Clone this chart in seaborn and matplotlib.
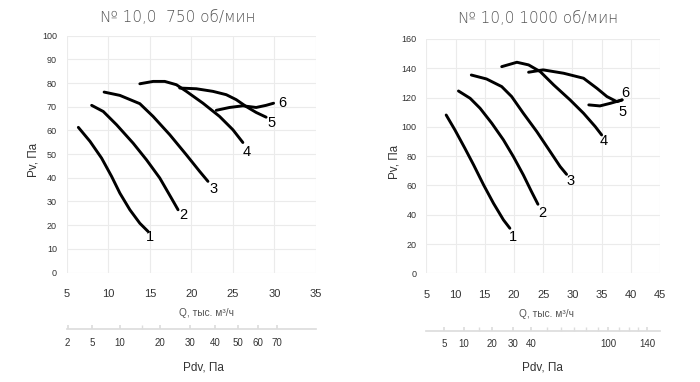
import numpy as np
import seaborn as sns
import matplotlib.pyplot as plt

# 750 об/мин: Q (тыс. м3/ч) / Pv (Па) по кривым 1..6
q750_1 = [6.4, 7.8, 9.2, 10.4, 11.4, 12.6, 13.8, 14.8]
p750_1 = [61.3, 55.4, 48.3, 40.6, 33.5, 26.5, 20.8, 17.3]
q750_2 = [8.0, 9.4, 11.0, 13.0, 14.6, 16.2, 17.6, 18.4]
p750_2 = [70.6, 68.0, 62.4, 54.6, 47.6, 39.9, 31.4, 26.5]
q750_3 = [9.5, 11.4, 13.8, 15.4, 17.4, 19.4, 21.0, 22.0]
p750_3 = [76.2, 74.8, 71.3, 65.9, 58.2, 49.7, 42.7, 38.5]
q750_4 = [13.8, 15.4, 16.8, 18.2, 19.4, 21.4, 23.4, 25.0, 26.2]
p750_4 = [79.7, 80.7, 80.7, 79.3, 76.5, 71.5, 65.9, 60.3, 54.9]
q750_5 = [18.6, 20.6, 22.6, 24.2, 25.4, 26.6, 27.8, 29.0]
p750_5 = [77.9, 77.6, 76.5, 75.1, 73.0, 70.1, 67.6, 65.6]
q750_6 = [23.0, 24.6, 26.2, 27.8, 29.0, 29.9]
p750_6 = [68.5, 69.7, 70.4, 69.7, 70.6, 71.5]

# 1000 об/мин
q1000_1 = [8.4, 9.9, 11.6, 13.1, 14.8, 16.5, 18.2, 19.3]
p1000_1 = [108.1, 97.9, 85.4, 74.0, 60.4, 47.8, 36.5, 30.8]
q1000_2 = [10.5, 12.5, 14.2, 16.2, 18.2, 19.9, 21.6, 23.0, 24.1]
p1000_2 = [124.5, 119.5, 112.7, 102.5, 91.1, 79.7, 67.2, 55.8, 47.2]
q1000_3 = [12.7, 15.3, 17.9, 19.6, 21.6, 23.9, 26.2, 27.9, 29.0]
p1000_3 = [135.4, 132.7, 127.5, 120.7, 109.3, 96.8, 83.1, 72.9, 67.6]
q1000_4 = [17.9, 20.5, 22.5, 24.5, 26.8, 29.6, 31.9, 33.9, 35.0]
p1000_4 = [141.1, 144.1, 142.3, 137.7, 128.6, 118.4, 109.3, 100.2, 94.5]
q1000_5 = [22.5, 25.0, 28.5, 31.9, 34.2, 35.9, 37.6, 38.5]
p1000_5 = [137.3, 138.9, 136.6, 133.2, 126.3, 120.7, 117.2, 118.4]
q1000_6 = [32.8, 34.7, 36.5, 38.5]
p1000_6 = [115.0, 114.3, 116.1, 118.4]

# подписи кривых (Q, Pv)
labels750 = [(15.0, 15.2), (19.0, 24.1), (22.7, 35.2), (26.7, 51.1), (29.6, 63.1), (31.0, 71.5)]
labels1000 = [(19.9, 25.1), (24.8, 41.0), (29.7, 63.1), (35.3, 90.4), (38.5, 110.0), (39.1, 122.9)]

# шкала динамического давления Pdv
pdv750_ticks = [2, 5, 10, 20, 30, 40, 50, 60, 70]
pdv750_minor = [15]
pdv1000_ticks = [5, 10, 20, 30, 40, 100, 140]
pdv1000_minor = [15, 50, 60, 70, 80, 90, 110, 120, 130]
PDV_K = 0.0765  # Pdv = k * Q^2

GRID = '#ebebeb'


def q_to_pdv(q):
    return PDV_K * np.asarray(q) ** 2


def pdv_to_q(p):
    return np.sqrt(np.abs(np.asarray(p, dtype=float)) / PDV_K)


def draw_panel(ax, curves, labels, title, title_x, title_pad, xlim, ylim, yticks,
               pdv_ticks, pdv_minor, pdv_loc, qlabel_x, pdvlabel_x):
    for q, p in curves:
        sns.lineplot(x=q, y=p, ax=ax, color='black', lw=2.1, estimator=None, sort=False,
                     solid_joinstyle='round', solid_capstyle='round')
    for i, (lq, lp) in enumerate(labels):
        ax.text(lq, lp, str(i + 1), fontsize=10.5, ha='center', va='center', color='black')

    ax.set_xlim(*xlim)
    ax.set_ylim(*ylim)
    ax.set_xticks(np.arange(xlim[0], xlim[1] + 1, 5))
    ax.set_yticks(yticks)
    ax.grid(True, color=GRID, lw=0.8)
    for s in ax.spines.values():
        s.set_visible(False)
    ax.tick_params(axis='x', length=0, pad=12, labelsize=8, labelcolor='#333333')
    ax.tick_params(axis='y', length=0, pad=7, labelsize=6.5, labelcolor='#333333')

    ax.set_title(title, fontsize=11, color='#555555', fontweight='light',
                 family='DejaVu Sans', pad=title_pad, x=title_x)
    ax.set_xlabel('Q, тыс. м³/ч', fontsize=7.3, color='#555555')
    ax.xaxis.set_label_coords(qlabel_x, -0.15)
    ax.set_ylabel('Pv, Па', fontsize=8.4, color='#333333')
    ax.yaxis.set_label_coords(-0.11, 0.475)

    sec = ax.secondary_xaxis(pdv_loc, functions=(q_to_pdv, pdv_to_q))
    sec.set_xticks(pdv_ticks)
    sec.set_xticklabels([str(t) for t in pdv_ticks])
    sec.set_xticks(pdv_minor, minor=True)
    sec.grid(False)
    for name, s in sec.spines.items():
        s.set_visible(name == 'bottom')
    sec.spines['bottom'].set_color('#dddddd')
    sec.tick_params(which='both', direction='in', length=3, color='#dddddd',
                    pad=6, labelsize=7, labelcolor='#333333')
    ax.text(pdvlabel_x, -0.40, 'Pdv, Па', transform=ax.transAxes, fontsize=8.5,
            ha='center', va='center', color='#333333')


def plot_charts():
    sns.set_theme(style='whitegrid')
    plt.rcParams['font.family'] = ['Liberation Sans', 'DejaVu Sans']

    fig = plt.figure(figsize=(7, 3.82), dpi=100)
    ax1 = fig.add_axes([0.0953, 0.2866, 0.3561, 0.6199])
    ax2 = fig.add_axes([0.609, 0.2843, 0.334, 0.6137])

    curves750 = [(q750_1, p750_1), (q750_2, p750_2), (q750_3, p750_3),
                 (q750_4, p750_4), (q750_5, p750_5), (q750_6, p750_6)]
    curves1000 = [(q1000_1, p1000_1), (q1000_2, p1000_2), (q1000_3, p1000_3),
                  (q1000_4, p1000_4), (q1000_5, p1000_5), (q1000_6, p1000_6)]

    draw_panel(ax1, curves750, labels750, '№ 10,0  750 об/мин', 0.445, 10,
               (5, 35), (0, 100), np.arange(0, 101, 10),
               pdv750_ticks, pdv750_minor, -0.24, 0.56, 0.549)
    draw_panel(ax2, curves1000, labels1000, '№ 10,0 1000 об/мин', 0.476, 11.5,
               (5, 45), (0, 160), np.arange(0, 161, 20),
               pdv1000_ticks, pdv1000_minor, -0.246, 0.515, 0.498)

    fig.savefig('out.png', dpi=100)
    plt.close('all')


if __name__ == '__main__':
    plot_charts()
